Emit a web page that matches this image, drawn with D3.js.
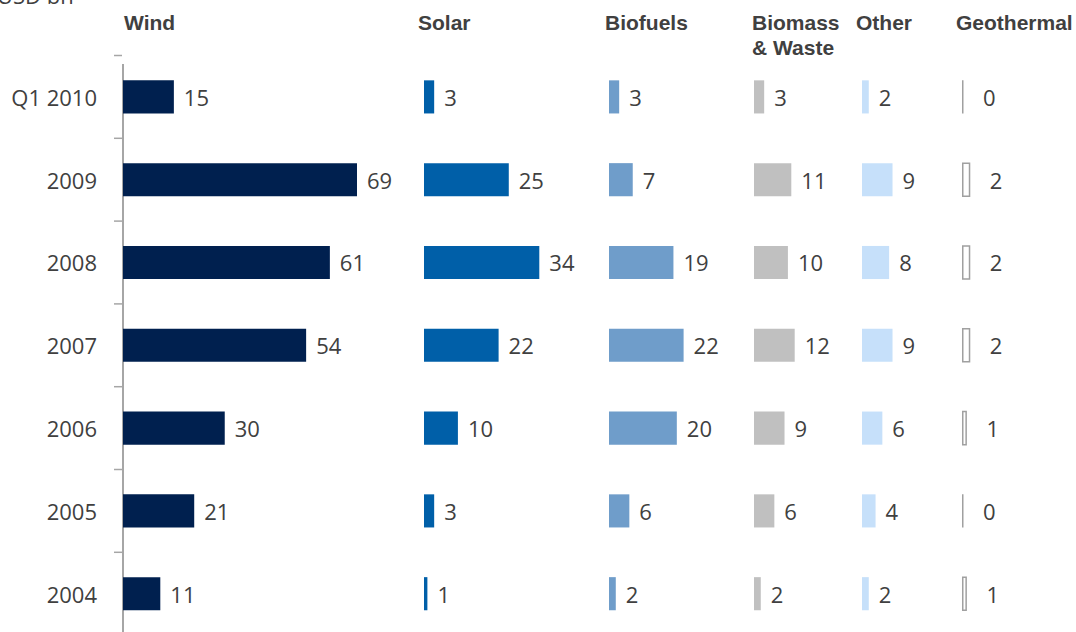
<!DOCTYPE html>
<html>
<head>
<meta charset="utf-8">
<script src="https://cdn.jsdelivr.net/npm/d3@7"></script>
<style>
  html, body { margin: 0; padding: 0; background: #fff; }
  svg { display: block; }
</style>
</head>
<body>
<svg id="chart" width="1076" height="632"></svg>
<script>
// Investment by technology, USD bn
const periods = ["Q1 2010", "2009", "2008", "2007", "2006", "2005", "2004"];
const technologies = ["Wind", "Solar", "Biofuels", "Biomass & Waste", "Other", "Geothermal"];
const wind       = [15, 69, 61, 54, 30, 21, 11];
const solar      = [3, 25, 34, 22, 10, 3, 1];
const biofuels   = [3, 7, 19, 22, 20, 6, 2];
const biomass    = [3, 11, 10, 12, 9, 6, 2];
const other      = [2, 9, 8, 9, 6, 4, 2];
const geothermal = [0, 2, 2, 2, 1, 0, 1];
const unitLabel = "USD bn";

const seriesValues = [wind, solar, biofuels, biomass, other, geothermal];

// Panel styling and placement
const panelX     = [123, 424, 609, 754, 862, 962];
const titleX     = [124, 418, 605, 752, 856, 956];
const barFill    = ["#00204f", "#005fa8", "#6f9dca", "#c0c0c0", "#c6e0fa", "#ffffff"];
const barStroke  = ["none", "none", "none", "none", "none", "#a0a0a0"];
const labelGap   = [10, 10, 10, 10, 10, 21];

const textColor = "#404040";
const numFont = "'Open Sans', 'Noto Sans', sans-serif";
const titleFont = "'Liberation Sans', Arial, sans-serif";

const svg = d3.select("#chart");

const y = d3.scaleBand()
  .domain(periods)
  .range([55.5, 635.1])
  .paddingInner(0.6)
  .paddingOuter(0.3);

const x = d3.scaleLinear().domain([0, 69]).range([0, 234]);

const axisX = panelX[0];

// Unit label, partly above the frame
svg.append("text")
  .attr("x", -3).attr("y", 4)
  .attr("font-family", numFont).attr("font-size", 22)
  .attr("fill", textColor)
  .text(unitLabel);

// Category axis: labels via d3.axisLeft, ticks on band boundaries
const axisG = svg.append("g").attr("transform", `translate(${axisX},0)`)
  .call(d3.axisLeft(y).tickSize(0).tickPadding(26));
axisG.select(".domain").remove();
axisG.selectAll("text")
  .attr("font-family", numFont).attr("font-size", 22)
  .attr("dy", "0.4em")
  .attr("fill", textColor);

svg.append("line")
  .attr("x1", axisX).attr("x2", axisX)
  .attr("y1", 64).attr("y2", 632)
  .attr("stroke", "#a6a6a6").attr("stroke-width", 2);

const boundaries = d3.range(periods.length + 1).map(i => y.range()[0] + i * y.step());
svg.append("g").selectAll("line").data(boundaries).join("line")
  .attr("x1", axisX - 9).attr("x2", axisX - 1)
  .attr("y1", d => d).attr("y2", d => d)
  .attr("stroke", "#a6a6a6").attr("stroke-width", 1.5);

// Panel titles
technologies.forEach((t, i) => {
  const lines = t === "Biomass & Waste" ? ["Biomass", "& Waste"] : [t];
  const txt = svg.append("text")
    .attr("x", titleX[i]).attr("y", 30)
    .attr("font-family", titleFont).attr("font-weight", "bold")
    .attr("font-size", 21).attr("fill", textColor);
  lines.forEach((ln, j) => {
    txt.append("tspan").attr("x", titleX[i]).attr("dy", j === 0 ? 0 : 25).text(ln);
  });
});

// Bars (as closed paths so zero-length bars still show their outline) and value labels
seriesValues.forEach((vals, i) => {
  const g = svg.append("g").attr("transform", `translate(${panelX[i]},0)`);
  const rows = periods.map((p, k) => ({ p, v: vals[k] }));
  const outlined = barStroke[i] !== "none";
  const x0 = outlined ? 0.75 : 0;
  g.selectAll("path").data(rows).join("path")
    .attr("d", d => `M${x0},${y(d.p)}h${x(d.v)}v${y.bandwidth()}h${-x(d.v)}Z`)
    .attr("fill", barFill[i])
    .attr("stroke", barStroke[i])
    .attr("stroke-width", outlined ? 1.5 : 0);
  g.selectAll("text").data(rows).join("text")
    .attr("x", d => x(d.v) + labelGap[i])
    .attr("y", d => y(d.p) + y.bandwidth() / 2)
    .attr("dy", "0.4em")
    .attr("font-family", numFont).attr("font-size", 22)
    .attr("fill", textColor)
    .text(d => d.v);
});
</script>
</body>
</html>
